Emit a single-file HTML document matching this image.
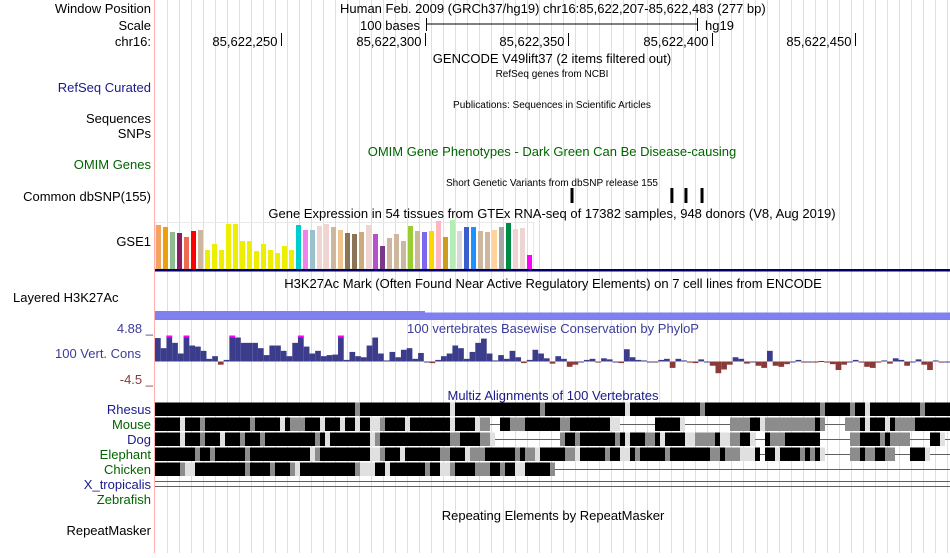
<!DOCTYPE html>
<html><head><meta charset="utf-8">
<style>
body{margin:0;background:#fff;width:950px;height:553px;overflow:hidden;font-family:"Liberation Sans",sans-serif;}
svg text{font-family:"Liberation Sans",sans-serif;}
</style></head>
<body>
<svg id="main" width="950" height="553" xmlns="http://www.w3.org/2000/svg">
<g id="grid"></g>
<line x1="154.5" y1="0" x2="154.5" y2="553" stroke="#ffb0b0"/>
<g font-size="13" text-anchor="end">
<text x="151" y="13">Window Position</text>
<text x="151" y="30">Scale</text>
<text x="151" y="46">chr16:</text>
<text x="151" y="92" fill="#1a1a8c">RefSeq Curated</text>
<text x="151" y="123">Sequences</text>
<text x="151" y="138">SNPs</text>
<text x="151" y="169" fill="#006400">OMIM Genes</text>
<text x="151" y="201">Common dbSNP(155)</text>
<text x="151" y="246">GSE1</text>
<text x="13" y="302" text-anchor="start">Layered H3K27Ac</text>
<text x="153" y="333" fill="#3c3c9a">4.88 _</text>
<text x="141" y="358" fill="#3c3c9a">100 Vert. Cons</text>
<text x="153" y="384" fill="#8b3a3a">-4.5 _</text>
<text x="151" y="414" fill="#1a1a8c">Rhesus</text>
<text x="151" y="429" fill="#006400">Mouse</text>
<text x="151" y="444" fill="#1a1a8c">Dog</text>
<text x="151" y="459" fill="#006400">Elephant</text>
<text x="151" y="474" fill="#006400">Chicken</text>
<text x="151" y="489" fill="#1a1a8c">X_tropicalis</text>
<text x="151" y="504" fill="#006400">Zebrafish</text>
<text x="151" y="535">RepeatMasker</text>
</g>
<g font-size="13">
<text x="340" y="13">Human Feb. 2009 (GRCh37/hg19)   chr16:85,622,207-85,622,483 (277 bp)</text>
<text x="420" y="30" text-anchor="end">100 bases</text>
<line x1="426" y1="24" x2="697" y2="24" stroke="#000"/>
<line x1="426.5" y1="18" x2="426.5" y2="31" stroke="#000"/><line x1="697.5" y1="18" x2="697.5" y2="31" stroke="#000"/>
<text x="705" y="30">hg19</text>
<text x="552" y="63" text-anchor="middle">GENCODE V49lift37 (2 items filtered out)</text>
<text x="552" y="77" text-anchor="middle" font-size="10">RefSeq genes from NCBI</text>
<text x="552" y="108" text-anchor="middle" font-size="10">Publications: Sequences in Scientific Articles</text>
<text x="552" y="156" text-anchor="middle" fill="#006400">OMIM Gene Phenotypes - Dark Green Can Be Disease-causing</text>
<text x="552" y="186" text-anchor="middle" font-size="10">Short Genetic Variants from dbSNP release 155</text>
<text x="552" y="218" text-anchor="middle">Gene Expression in 54 tissues from GTEx RNA-seq of 17382 samples, 948 donors (V8, Aug 2019)</text>
<text x="553" y="288" text-anchor="middle">H3K27Ac Mark (Often Found Near Active Regulatory Elements) on 7 cell lines from ENCODE</text>
<text x="553" y="333" text-anchor="middle" fill="#3c3c9a">100 vertebrates Basewise Conservation by PhyloP</text>
<text x="553" y="400" text-anchor="middle" fill="#1a1a8c">Multiz Alignments of 100 Vertebrates</text>
<text x="553" y="520" text-anchor="middle">Repeating Elements by RepeatMasker</text>
</g>
<g id="ruler"></g>
<g id="snps"></g>
<g id="gtex"></g>
<rect x="155" y="269" width="795" height="2.5" fill="#000066"/>
<rect x="155" y="311" width="270" height="8" fill="#8080f0"/>
<rect x="425" y="312.5" width="525" height="6.5" fill="#8080f0"/>
<rect x="155" y="319" width="795" height="1" fill="#a08080"/>
<g id="cons"></g>
<g id="multiz"></g>
</svg>
<script>
// ---- data ----
const rulerTicks = [85622250, 85622300, 85622350, 85622400, 85622450];
const rulerLabels = ["85,622,250","85,622,300","85,622,350","85,622,400","85,622,450"];
const snpPositions = [144.8, 179.6, 184.5, 190.1];
const gtexValues = [44,42,37,36,32,38,39,19,25,19,45,45,28,28,18,25,19,16,23,19,44,39,39,43,45,42,39,36,35,37,44,35,23,31,35,28,43,38,37,38,48,32,49,38,42,42,38,37,39,42,46,40,41,14];
const gtexColors = ["#f4a460","#eea00a","#8fbc8f","#8b1c62","#ee6a50","#ff0000","#cdb79e","#eeee00","#eeee00","#eeee00","#eeee00","#eeee00","#eeee00","#eeee00","#eeee00","#eeee00","#eeee00","#eeee00","#eeee00","#eeee00","#00cdcd","#ee82ee","#9ac0cd","#eed5d2","#eed5d2","#cdb79e","#eec591","#8b7355","#8b7355","#cdaa7d","#eed5d2","#b452cd","#7a378b","#cdb79e","#cdb79e","#cdb79e","#9acd32","#cdb79e","#7b68ee","#ffd700","#ffb6c1","#cd9b1d","#b4eeb4","#d9d9d9","#3a5fcd","#1e90ff","#cdb79e","#cdb79e","#ffd39b","#a6a6a6","#008b45","#eed5d2","#eed5d2","#ff00ff"];
const consValues = [4.4,2.5,4.9,3.5,1.5,4.9,3,2.8,2,0.5,1,-0.6,0.3,4.9,4.5,3.5,3.5,3.5,2.5,1.2,3,3,2,1,3.5,4.9,2.8,1.5,2,1,1.2,1.3,4.9,0.3,1.8,1,0.8,3,4.5,1.5,0.2,1.8,0.8,2.2,2.5,0.5,1.6,0,-0.3,0.3,1,1.5,3,2.5,0.5,1.8,3.5,4.3,1.5,0.2,1.2,0.5,2,0.8,-0.3,0.3,2.2,1.5,0.6,-0.4,
1,0.5,-1,-0.6,0,0.3,0.5,-0.2,0.6,0.4,0,-0.3,2.3,0.8,0.3,0.2,0,-0.2,0.3,0.5,-1.2,0.5,0.2,-0.2,-0.3,0.4,0,-0.8,-2.2,-1.5,-0.6,0.8,0.5,-0.4,0,-0.8,-1.2,2,-0.8,-1,-0.5,0,0.3,-0.2,0,-0.2,0.1,-0.2,-0.5,-1.6,-0.6,0,0.3,-0.2,-1,-1.2,-0.2,0.2,-0.4,0.6,0.3,-0.8,0,0.4,-0.6,-1.6,0.2,-0.2,0];
const species = ["rhesus","mouse","dog","elephant","chicken"];
const alignRLE = [
"40B1G18B1L17B1G16B1L14B1G23B1G5B1G2B1L10B1G5B",
"5B1L3B1G9B1G5B1L1B3G3B1L3B1L2B1L2B2L1G4B1L4B4B1L4B1L2G2-2B3G5B2B2G3B5B2L7-5B1L9-4G2B1L10G1B1G4-3G1B1L3B1L1B4G7B",
"5B1L3B1G3B1L3B1G3B1G10B1G1B1L8B1L1G14B2G4B2G1L13-1G2B1G7B1G1B1L3B2G1B1L4B2L4G1B2L2G2B1L2-1B3G7B6-2G4B1G1B4G4-2B1L1-",
"8B1G2B1G6B1G12B1L1G10B2L1G3B1L7B2G3B1L3G6B1G1B2G1L5B2G1L5B1G2B2L1B1G5B1G8B2G1B3G3L1B1-2B1L4B1G1B1G1B1L5-2G1B2G2B2G3-3B1L4-",
"5B1G2L4B6B1G4B1G3B1G1L11B1G1L2L2B1L7B1G2B2L1G4B3G2B1G2B2L5B1G79-"];
const xTropLines = 2;
// ---- scales ----
const X0 = 155, X1 = 950, startBase = 85622207, nBases = 277;
const pxPerBase = (X1 - X0) / nBases;
const xBase = b => X0 + (b + 0.5) * pxPerBase;
const xRuler = pos => X0 + (pos - startBase + 1) * pxPerBase;
const NS = "http://www.w3.org/2000/svg";
function mk(tag, attrs, parent){const e=document.createElementNS(NS,tag);for(const k in attrs)e.setAttribute(k,attrs[k]);parent.appendChild(e);return e;}
// grid
const grid=document.getElementById('grid');
for(let x=167;x<950;x+=12){
 const l=mk('line',{x1:x+0.5,y1:0,x2:x+0.5,y2:553,stroke:'#dcdcf8'},grid);
 
 
}
// ruler
const ruler=document.getElementById('ruler');
rulerTicks.forEach((v,i)=>{
 const x=Math.round(xRuler(v))+0.5;
 const l=mk('line',{x1:x,y1:33,x2:x,y2:46,stroke:'#000'},ruler);
 
 
 const t=mk('text',{x:x-4,y:46,'font-size':13,'text-anchor':'end'},ruler);
 t.textContent=rulerLabels[i];
 
 
});
// snps
const snps=document.getElementById('snps');
snpPositions.forEach(p=>{
 const r=mk('rect',{x:xBase(p)-1.5,y:188,width:3,height:15,fill:'#000'},snps);
 
 
});
// gtex
const gtex=document.getElementById('gtex');
const gBase=269, gStep=7.0;
mk('rect',{x:155.5,y:222.5,width:378,height:46,fill:'none',stroke:'#e8e8e8'},gtex);
gtexValues.forEach((v,i)=>{
 const r=mk('rect',{x:156+i*gStep,y:gBase-v,width:5,height:v,fill:gtexColors[i]},gtex);
 
 
});
// conservation
const cons=document.getElementById('cons');
const zeroY=361.5, unit=26/4.88, bw=(X1-X0)/consValues.length;
consValues.forEach((v,i)=>{
 const vv=Math.max(-4.5,Math.min(4.88,v));
 const h=Math.abs(vv)*unit;
 const r=mk('rect',{x:X0+i*bw,y:vv>=0?zeroY-h:zeroY,width:bw,height:Math.max(h,1),fill:vv>=0?'#3c3c8c':'#8b3a3a'},cons);
 
 
 if(v>=4.88){
  const c=mk('rect',{x:X0+i*bw,y:zeroY-h,width:bw,height:2,fill:'#ff00ff'},cons);
  
  
 }
});
// multiz
const mz=document.getElementById('multiz');
const colW=5, shades={B:'#000',G:'#8c8c8c',L:'#e0e0e0'};
alignRLE.forEach((s,row)=>{
 const y=402.5+row*15; let col=0;
 const re=/(\d+)([BGL\-])/g; let m;
 while((m=re.exec(s))){
  const n=+m[1], c=m[2];
  if(c==='-'){
   const l=mk('line',{x1:X0+col*colW,y1:y+7,x2:X0+(col+n)*colW,y2:y+7,stroke:'#606060'},mz);
   
   
  } else {
   const r=mk('rect',{x:X0+col*colW,y:y,width:n*colW,height:13.5,fill:shades[c]},mz);
   
   
  }
  col+=n;
 }
});
for(let k=0;k<xTropLines;k++){
 const l=mk('line',{x1:X0,y1:481.5+k*5,x2:X1,y2:481.5+k*5,stroke:'#606060'},mz);
 
 
}
</script>
</body></html>
